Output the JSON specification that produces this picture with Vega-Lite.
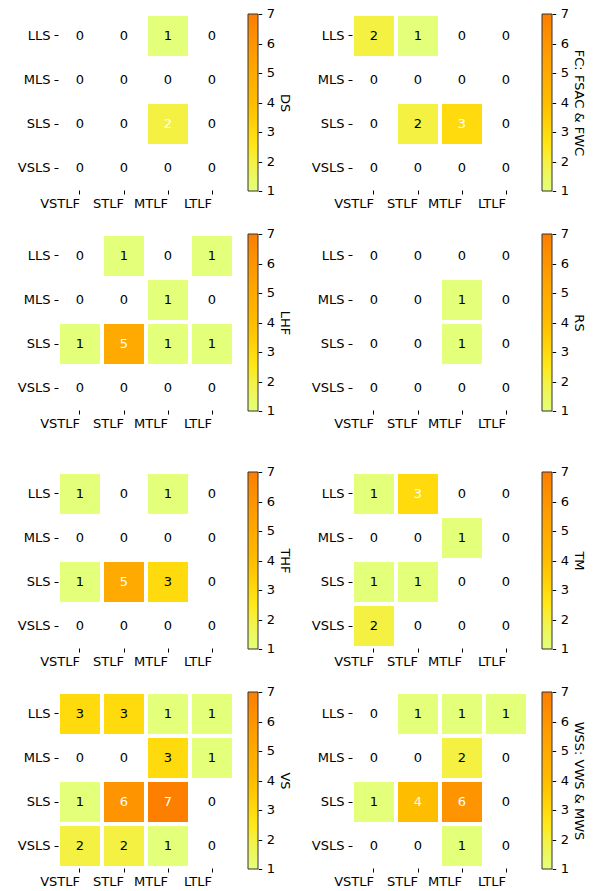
{
"$schema":"https://vega.github.io/schema/vega-lite/v6.json",
"padding":{"left":17,"top":14,"right":0,"bottom":0},
"data":{"values":[
{"p":"DS","y":"LLS","x":"VSTLF","v":0},{"p":"DS","y":"LLS","x":"STLF","v":0},{"p":"DS","y":"LLS","x":"MTLF","v":1},{"p":"DS","y":"LLS","x":"LTLF","v":0},
{"p":"DS","y":"MLS","x":"VSTLF","v":0},{"p":"DS","y":"MLS","x":"STLF","v":0},{"p":"DS","y":"MLS","x":"MTLF","v":0},{"p":"DS","y":"MLS","x":"LTLF","v":0},
{"p":"DS","y":"SLS","x":"VSTLF","v":0},{"p":"DS","y":"SLS","x":"STLF","v":0},{"p":"DS","y":"SLS","x":"MTLF","v":2},{"p":"DS","y":"SLS","x":"LTLF","v":0},
{"p":"DS","y":"VSLS","x":"VSTLF","v":0},{"p":"DS","y":"VSLS","x":"STLF","v":0},{"p":"DS","y":"VSLS","x":"MTLF","v":0},{"p":"DS","y":"VSLS","x":"LTLF","v":0},
{"p":"FC","y":"LLS","x":"VSTLF","v":2},{"p":"FC","y":"LLS","x":"STLF","v":1},{"p":"FC","y":"LLS","x":"MTLF","v":0},{"p":"FC","y":"LLS","x":"LTLF","v":0},
{"p":"FC","y":"MLS","x":"VSTLF","v":0},{"p":"FC","y":"MLS","x":"STLF","v":0},{"p":"FC","y":"MLS","x":"MTLF","v":0},{"p":"FC","y":"MLS","x":"LTLF","v":0},
{"p":"FC","y":"SLS","x":"VSTLF","v":0},{"p":"FC","y":"SLS","x":"STLF","v":2},{"p":"FC","y":"SLS","x":"MTLF","v":3},{"p":"FC","y":"SLS","x":"LTLF","v":0},
{"p":"FC","y":"VSLS","x":"VSTLF","v":0},{"p":"FC","y":"VSLS","x":"STLF","v":0},{"p":"FC","y":"VSLS","x":"MTLF","v":0},{"p":"FC","y":"VSLS","x":"LTLF","v":0},
{"p":"LHF","y":"LLS","x":"VSTLF","v":0},{"p":"LHF","y":"LLS","x":"STLF","v":1},{"p":"LHF","y":"LLS","x":"MTLF","v":0},{"p":"LHF","y":"LLS","x":"LTLF","v":1},
{"p":"LHF","y":"MLS","x":"VSTLF","v":0},{"p":"LHF","y":"MLS","x":"STLF","v":0},{"p":"LHF","y":"MLS","x":"MTLF","v":1},{"p":"LHF","y":"MLS","x":"LTLF","v":0},
{"p":"LHF","y":"SLS","x":"VSTLF","v":1},{"p":"LHF","y":"SLS","x":"STLF","v":5},{"p":"LHF","y":"SLS","x":"MTLF","v":1},{"p":"LHF","y":"SLS","x":"LTLF","v":1},
{"p":"LHF","y":"VSLS","x":"VSTLF","v":0},{"p":"LHF","y":"VSLS","x":"STLF","v":0},{"p":"LHF","y":"VSLS","x":"MTLF","v":0},{"p":"LHF","y":"VSLS","x":"LTLF","v":0},
{"p":"RS","y":"LLS","x":"VSTLF","v":0},{"p":"RS","y":"LLS","x":"STLF","v":0},{"p":"RS","y":"LLS","x":"MTLF","v":0},{"p":"RS","y":"LLS","x":"LTLF","v":0},
{"p":"RS","y":"MLS","x":"VSTLF","v":0},{"p":"RS","y":"MLS","x":"STLF","v":0},{"p":"RS","y":"MLS","x":"MTLF","v":1},{"p":"RS","y":"MLS","x":"LTLF","v":0},
{"p":"RS","y":"SLS","x":"VSTLF","v":0},{"p":"RS","y":"SLS","x":"STLF","v":0},{"p":"RS","y":"SLS","x":"MTLF","v":1},{"p":"RS","y":"SLS","x":"LTLF","v":0},
{"p":"RS","y":"VSLS","x":"VSTLF","v":0},{"p":"RS","y":"VSLS","x":"STLF","v":0},{"p":"RS","y":"VSLS","x":"MTLF","v":0},{"p":"RS","y":"VSLS","x":"LTLF","v":0},
{"p":"THF","y":"LLS","x":"VSTLF","v":1},{"p":"THF","y":"LLS","x":"STLF","v":0},{"p":"THF","y":"LLS","x":"MTLF","v":1},{"p":"THF","y":"LLS","x":"LTLF","v":0},
{"p":"THF","y":"MLS","x":"VSTLF","v":0},{"p":"THF","y":"MLS","x":"STLF","v":0},{"p":"THF","y":"MLS","x":"MTLF","v":0},{"p":"THF","y":"MLS","x":"LTLF","v":0},
{"p":"THF","y":"SLS","x":"VSTLF","v":1},{"p":"THF","y":"SLS","x":"STLF","v":5},{"p":"THF","y":"SLS","x":"MTLF","v":3},{"p":"THF","y":"SLS","x":"LTLF","v":0},
{"p":"THF","y":"VSLS","x":"VSTLF","v":0},{"p":"THF","y":"VSLS","x":"STLF","v":0},{"p":"THF","y":"VSLS","x":"MTLF","v":0},{"p":"THF","y":"VSLS","x":"LTLF","v":0},
{"p":"TM","y":"LLS","x":"VSTLF","v":1},{"p":"TM","y":"LLS","x":"STLF","v":3},{"p":"TM","y":"LLS","x":"MTLF","v":0},{"p":"TM","y":"LLS","x":"LTLF","v":0},
{"p":"TM","y":"MLS","x":"VSTLF","v":0},{"p":"TM","y":"MLS","x":"STLF","v":0},{"p":"TM","y":"MLS","x":"MTLF","v":1},{"p":"TM","y":"MLS","x":"LTLF","v":0},
{"p":"TM","y":"SLS","x":"VSTLF","v":1},{"p":"TM","y":"SLS","x":"STLF","v":1},{"p":"TM","y":"SLS","x":"MTLF","v":0},{"p":"TM","y":"SLS","x":"LTLF","v":0},
{"p":"TM","y":"VSLS","x":"VSTLF","v":2},{"p":"TM","y":"VSLS","x":"STLF","v":0},{"p":"TM","y":"VSLS","x":"MTLF","v":0},{"p":"TM","y":"VSLS","x":"LTLF","v":0},
{"p":"VS","y":"LLS","x":"VSTLF","v":3},{"p":"VS","y":"LLS","x":"STLF","v":3},{"p":"VS","y":"LLS","x":"MTLF","v":1},{"p":"VS","y":"LLS","x":"LTLF","v":1},
{"p":"VS","y":"MLS","x":"VSTLF","v":0},{"p":"VS","y":"MLS","x":"STLF","v":0},{"p":"VS","y":"MLS","x":"MTLF","v":3},{"p":"VS","y":"MLS","x":"LTLF","v":1},
{"p":"VS","y":"SLS","x":"VSTLF","v":1},{"p":"VS","y":"SLS","x":"STLF","v":6},{"p":"VS","y":"SLS","x":"MTLF","v":7},{"p":"VS","y":"SLS","x":"LTLF","v":0},
{"p":"VS","y":"VSLS","x":"VSTLF","v":2},{"p":"VS","y":"VSLS","x":"STLF","v":2},{"p":"VS","y":"VSLS","x":"MTLF","v":1},{"p":"VS","y":"VSLS","x":"LTLF","v":0},
{"p":"WSS","y":"LLS","x":"VSTLF","v":0},{"p":"WSS","y":"LLS","x":"STLF","v":1},{"p":"WSS","y":"LLS","x":"MTLF","v":1},{"p":"WSS","y":"LLS","x":"LTLF","v":1},
{"p":"WSS","y":"MLS","x":"VSTLF","v":0},{"p":"WSS","y":"MLS","x":"STLF","v":0},{"p":"WSS","y":"MLS","x":"MTLF","v":2},{"p":"WSS","y":"MLS","x":"LTLF","v":0},
{"p":"WSS","y":"SLS","x":"VSTLF","v":1},{"p":"WSS","y":"SLS","x":"STLF","v":4},{"p":"WSS","y":"SLS","x":"MTLF","v":6},{"p":"WSS","y":"SLS","x":"LTLF","v":0},
{"p":"WSS","y":"VSLS","x":"VSTLF","v":0},{"p":"WSS","y":"VSLS","x":"STLF","v":0},{"p":"WSS","y":"VSLS","x":"MTLF","v":1},{"p":"WSS","y":"VSLS","x":"LTLF","v":0}
]},
"resolve":{"scale":{"color":"independent"},"legend":{"color":"independent"}},
"spacing":42,
"vconcat":[
{"spacing":24,"resolve":{"scale":{"color":"independent"},"legend":{"color":"independent"}},"vconcat":[
 {"spacing":20,"resolve":{"scale":{"color":"independent"},"legend":{"color":"independent"}},"hconcat":[
  {"transform":[{"filter":"datum.p==='DS'"},{"joinaggregate":[{"op":"max","field":"v","as":"mx"}]}],"width":176,"height":176,
   "encoding":{"x":{"field":"x","type":"nominal","sort":["VSTLF","STLF","MTLF","LTLF"],"title":null,"scale":{"type":"band","paddingInner":0.0909,"paddingOuter":0.04545},"axis":{"labelAngle":0,"labelAlign":"right"}},
               "y":{"field":"y","type":"nominal","sort":["LLS","MLS","SLS","VSLS"],"title":null,"scale":{"type":"band","paddingInner":0.0909,"paddingOuter":0.04545}}},
   "layer":[
    {"transform":[{"filter":"datum.v>0"}],"mark":"rect","encoding":{"color":{"field":"v","type":"quantitative","scale":{"type":"linear","domain":[1,2.5,4,5.5,7],"range":["#e4ff7a","#ffe81a","#ffbd00","#ffa000","#fc7f00"]},"legend":{"title":"DS","values":[1,2,3,4,5,6,7],"labelExpr":"'- ' + datum.label","labelOffset":0,"labelBaseline":"middle","titlePadding":3,"encode":{"labels":{"update":{"baseline":{"value":"middle"}}}}}}}},
    {"mark":{"type":"text","fontSize":13},"encoding":{"text":{"field":"v","type":"quantitative"},"color":{"condition":{"test":"(datum.v-1)/6 > (datum.mx-1)/12","value":"white"},"value":"black"}}}
   ]},
  {"transform":[{"filter":"datum.p==='FC'"},{"joinaggregate":[{"op":"max","field":"v","as":"mx"}]}],"width":176,"height":176,
   "encoding":{"x":{"field":"x","type":"nominal","sort":["VSTLF","STLF","MTLF","LTLF"],"title":null,"scale":{"type":"band","paddingInner":0.0909,"paddingOuter":0.04545},"axis":{"labelAngle":0,"labelAlign":"right"}},
               "y":{"field":"y","type":"nominal","sort":["LLS","MLS","SLS","VSLS"],"title":null,"scale":{"type":"band","paddingInner":0.0909,"paddingOuter":0.04545}}},
   "layer":[
    {"transform":[{"filter":"datum.v>0"}],"mark":"rect","encoding":{"color":{"field":"v","type":"quantitative","scale":{"type":"linear","domain":[1,2.5,4,5.5,7],"range":["#e4ff7a","#ffe81a","#ffbd00","#ffa000","#fc7f00"]},"legend":{"title":"FC: FSAC & FWC","values":[1,2,3,4,5,6,7],"labelExpr":"'- ' + datum.label","labelOffset":0,"labelBaseline":"middle","titlePadding":3,"encode":{"labels":{"update":{"baseline":{"value":"middle"}}}}}}}},
    {"mark":{"type":"text","fontSize":13},"encoding":{"text":{"field":"v","type":"quantitative"},"color":{"condition":{"test":"(datum.v-1)/6 > (datum.mx-1)/12","value":"white"},"value":"black"}}}
   ]}
 ]},
 {"spacing":20,"resolve":{"scale":{"color":"independent"},"legend":{"color":"independent"}},"hconcat":[
  {"transform":[{"filter":"datum.p==='LHF'"},{"joinaggregate":[{"op":"max","field":"v","as":"mx"}]}],"width":176,"height":176,
   "encoding":{"x":{"field":"x","type":"nominal","sort":["VSTLF","STLF","MTLF","LTLF"],"title":null,"scale":{"type":"band","paddingInner":0.0909,"paddingOuter":0.04545},"axis":{"labelAngle":0,"labelAlign":"right"}},
               "y":{"field":"y","type":"nominal","sort":["LLS","MLS","SLS","VSLS"],"title":null,"scale":{"type":"band","paddingInner":0.0909,"paddingOuter":0.04545}}},
   "layer":[
    {"transform":[{"filter":"datum.v>0"}],"mark":"rect","encoding":{"color":{"field":"v","type":"quantitative","scale":{"type":"linear","domain":[1,2.5,4,5.5,7],"range":["#e4ff7a","#ffe81a","#ffbd00","#ffa000","#fc7f00"]},"legend":{"title":"LHF","values":[1,2,3,4,5,6,7],"labelExpr":"'- ' + datum.label","labelOffset":0,"labelBaseline":"middle","titlePadding":3,"encode":{"labels":{"update":{"baseline":{"value":"middle"}}}}}}}},
    {"mark":{"type":"text","fontSize":13},"encoding":{"text":{"field":"v","type":"quantitative"},"color":{"condition":{"test":"(datum.v-1)/6 > (datum.mx-1)/12","value":"white"},"value":"black"}}}
   ]},
  {"transform":[{"filter":"datum.p==='RS'"},{"joinaggregate":[{"op":"max","field":"v","as":"mx"}]}],"width":176,"height":176,
   "encoding":{"x":{"field":"x","type":"nominal","sort":["VSTLF","STLF","MTLF","LTLF"],"title":null,"scale":{"type":"band","paddingInner":0.0909,"paddingOuter":0.04545},"axis":{"labelAngle":0,"labelAlign":"right"}},
               "y":{"field":"y","type":"nominal","sort":["LLS","MLS","SLS","VSLS"],"title":null,"scale":{"type":"band","paddingInner":0.0909,"paddingOuter":0.04545}}},
   "layer":[
    {"transform":[{"filter":"datum.v>0"}],"mark":"rect","encoding":{"color":{"field":"v","type":"quantitative","scale":{"type":"linear","domain":[1,2.5,4,5.5,7],"range":["#e4ff7a","#ffe81a","#ffbd00","#ffa000","#fc7f00"]},"legend":{"title":"RS","values":[1,2,3,4,5,6,7],"labelExpr":"'- ' + datum.label","labelOffset":0,"labelBaseline":"middle","titlePadding":3,"encode":{"labels":{"update":{"baseline":{"value":"middle"}}}}}}}},
    {"mark":{"type":"text","fontSize":13},"encoding":{"text":{"field":"v","type":"quantitative"},"color":{"condition":{"test":"(datum.v-1)/6 > (datum.mx-1)/12","value":"white"},"value":"black"}}}
   ]}
 ]}
]},
{"spacing":24,"resolve":{"scale":{"color":"independent"},"legend":{"color":"independent"}},"vconcat":[
 {"spacing":20,"resolve":{"scale":{"color":"independent"},"legend":{"color":"independent"}},"hconcat":[
  {"transform":[{"filter":"datum.p==='THF'"},{"joinaggregate":[{"op":"max","field":"v","as":"mx"}]}],"width":176,"height":176,
   "encoding":{"x":{"field":"x","type":"nominal","sort":["VSTLF","STLF","MTLF","LTLF"],"title":null,"scale":{"type":"band","paddingInner":0.0909,"paddingOuter":0.04545},"axis":{"labelAngle":0,"labelAlign":"right"}},
               "y":{"field":"y","type":"nominal","sort":["LLS","MLS","SLS","VSLS"],"title":null,"scale":{"type":"band","paddingInner":0.0909,"paddingOuter":0.04545}}},
   "layer":[
    {"transform":[{"filter":"datum.v>0"}],"mark":"rect","encoding":{"color":{"field":"v","type":"quantitative","scale":{"type":"linear","domain":[1,2.5,4,5.5,7],"range":["#e4ff7a","#ffe81a","#ffbd00","#ffa000","#fc7f00"]},"legend":{"title":"THF","values":[1,2,3,4,5,6,7],"labelExpr":"'- ' + datum.label","labelOffset":0,"labelBaseline":"middle","titlePadding":3,"encode":{"labels":{"update":{"baseline":{"value":"middle"}}}}}}}},
    {"mark":{"type":"text","fontSize":13},"encoding":{"text":{"field":"v","type":"quantitative"},"color":{"condition":{"test":"(datum.v-1)/6 > (datum.mx-1)/12","value":"white"},"value":"black"}}}
   ]},
  {"transform":[{"filter":"datum.p==='TM'"},{"joinaggregate":[{"op":"max","field":"v","as":"mx"}]}],"width":176,"height":176,
   "encoding":{"x":{"field":"x","type":"nominal","sort":["VSTLF","STLF","MTLF","LTLF"],"title":null,"scale":{"type":"band","paddingInner":0.0909,"paddingOuter":0.04545},"axis":{"labelAngle":0,"labelAlign":"right"}},
               "y":{"field":"y","type":"nominal","sort":["LLS","MLS","SLS","VSLS"],"title":null,"scale":{"type":"band","paddingInner":0.0909,"paddingOuter":0.04545}}},
   "layer":[
    {"transform":[{"filter":"datum.v>0"}],"mark":"rect","encoding":{"color":{"field":"v","type":"quantitative","scale":{"type":"linear","domain":[1,2.5,4,5.5,7],"range":["#e4ff7a","#ffe81a","#ffbd00","#ffa000","#fc7f00"]},"legend":{"title":"TM","values":[1,2,3,4,5,6,7],"labelExpr":"'- ' + datum.label","labelOffset":0,"labelBaseline":"middle","titlePadding":3,"encode":{"labels":{"update":{"baseline":{"value":"middle"}}}}}}}},
    {"mark":{"type":"text","fontSize":13},"encoding":{"text":{"field":"v","type":"quantitative"},"color":{"condition":{"test":"(datum.v-1)/6 > (datum.mx-1)/12","value":"white"},"value":"black"}}}
   ]}
 ]},
 {"spacing":20,"resolve":{"scale":{"color":"independent"},"legend":{"color":"independent"}},"hconcat":[
  {"transform":[{"filter":"datum.p==='VS'"},{"joinaggregate":[{"op":"max","field":"v","as":"mx"}]}],"width":176,"height":176,
   "encoding":{"x":{"field":"x","type":"nominal","sort":["VSTLF","STLF","MTLF","LTLF"],"title":null,"scale":{"type":"band","paddingInner":0.0909,"paddingOuter":0.04545},"axis":{"labelAngle":0,"labelAlign":"right"}},
               "y":{"field":"y","type":"nominal","sort":["LLS","MLS","SLS","VSLS"],"title":null,"scale":{"type":"band","paddingInner":0.0909,"paddingOuter":0.04545}}},
   "layer":[
    {"transform":[{"filter":"datum.v>0"}],"mark":"rect","encoding":{"color":{"field":"v","type":"quantitative","scale":{"type":"linear","domain":[1,2.5,4,5.5,7],"range":["#e4ff7a","#ffe81a","#ffbd00","#ffa000","#fc7f00"]},"legend":{"title":"VS","values":[1,2,3,4,5,6,7],"labelExpr":"'- ' + datum.label","labelOffset":0,"labelBaseline":"middle","titlePadding":3,"encode":{"labels":{"update":{"baseline":{"value":"middle"}}}}}}}},
    {"mark":{"type":"text","fontSize":13},"encoding":{"text":{"field":"v","type":"quantitative"},"color":{"condition":{"test":"(datum.v-1)/6 > (datum.mx-1)/12","value":"white"},"value":"black"}}}
   ]},
  {"transform":[{"filter":"datum.p==='WSS'"},{"joinaggregate":[{"op":"max","field":"v","as":"mx"}]}],"width":176,"height":176,
   "encoding":{"x":{"field":"x","type":"nominal","sort":["VSTLF","STLF","MTLF","LTLF"],"title":null,"scale":{"type":"band","paddingInner":0.0909,"paddingOuter":0.04545},"axis":{"labelAngle":0,"labelAlign":"right"}},
               "y":{"field":"y","type":"nominal","sort":["LLS","MLS","SLS","VSLS"],"title":null,"scale":{"type":"band","paddingInner":0.0909,"paddingOuter":0.04545}}},
   "layer":[
    {"transform":[{"filter":"datum.v>0"}],"mark":"rect","encoding":{"color":{"field":"v","type":"quantitative","scale":{"type":"linear","domain":[1,2.5,4,5.5,7],"range":["#e4ff7a","#ffe81a","#ffbd00","#ffa000","#fc7f00"]},"legend":{"title":"WSS: VWS & MWS","values":[1,2,3,4,5,6,7],"labelExpr":"'- ' + datum.label","labelOffset":0,"labelBaseline":"middle","titlePadding":3,"encode":{"labels":{"update":{"baseline":{"value":"middle"}}}}}}}},
    {"mark":{"type":"text","fontSize":13},"encoding":{"text":{"field":"v","type":"quantitative"},"color":{"condition":{"test":"(datum.v-1)/6 > (datum.mx-1)/12","value":"white"},"value":"black"}}}
   ]}
 ]}
]}
],
"config":{
 "font":"DejaVu Sans",
 "view":{"stroke":null},
 "axis":{"domain":false,"grid":false,"ticks":true,"tickSize":4,"tickColor":"#000","labelColor":"#000","labelFontSize":13,"labelPadding":4,"labelOverlap":false,"labelBound":false},
 "axisX":{"labelPadding":3},
 "legend":{"type":"gradient","direction":"vertical","gradientLength":177,"gradientThickness":10,"gradientStrokeColor":"#333","gradientStrokeWidth":1,"offset":14,"padding":0,"labelFontSize":13,"labelColor":"#000","titleOrient":"right","titleFontSize":13,"titleFontWeight":"normal","titleColor":"#000","labelOverlap":false}
}
}
